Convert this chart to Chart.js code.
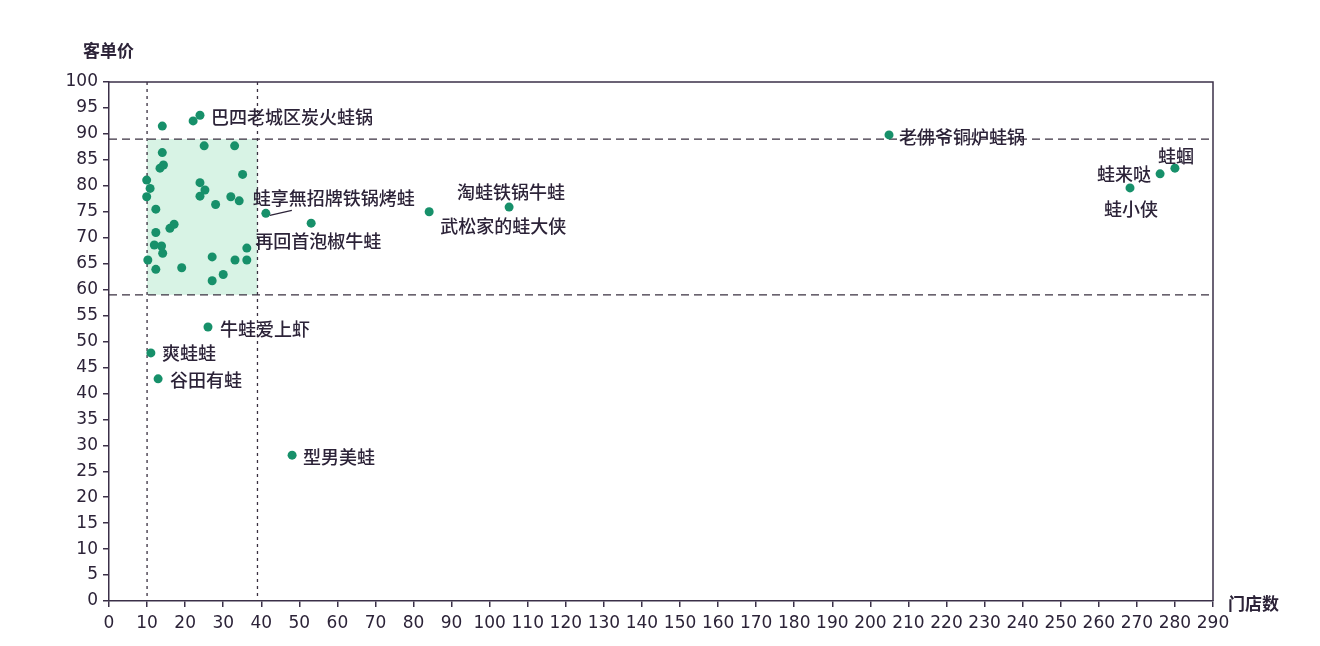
<!DOCTYPE html>
<html>
<head>
<meta charset="utf-8">
<script src="https://cdn.jsdelivr.net/npm/chart.js@4"></script>
<style>
  html, body { margin: 0; padding: 0; background: #ffffff; }
  #wrap { width: 1320px; height: 646px; }
</style>
</head>
<body>
<div id="wrap"><canvas id="c" width="1320" height="646"></canvas></div>
<script>
// brand names (empty = unlabeled dot)
const brands = [
  '', '', '巴四老城区炭火蛙锅', '', '', '', '', '', '',
  '', '', '', '', '', '', '', '',
  '', '蛙享無招牌铁锅烤蛙', '', '', '', '', '',
  '', '', '', '', '', '', '', '', '',
  '', '',
  '再回首泡椒牛蛙', '武松家的蛙大侠', '淘蛙铁锅牛蛙', '老佛爷铜炉蛙锅',
  '蛙小侠', '蛙来哒', '蛙蝈',
  '牛蛙爱上虾', '爽蛙蛙', '谷田有蛙', '型男美蛙'
];
// 门店数
const stores = [
  14.0, 22.1, 23.9, 25.0, 33.0, 14.0, 13.4, 14.3, 35.1,
  9.9, 10.8, 9.9, 23.9, 25.2, 23.9, 28.0, 32.0,
  34.2, 41.2, 12.3, 16.0, 17.1, 12.3, 11.9,
  13.8, 14.1, 36.2, 10.2, 12.3, 19.1, 27.1, 33.1, 36.2,
  30.0, 27.1,
  53.1, 84.1, 105.1, 204.9,
  268.2, 276.1, 280.0,
  26.0, 11.0, 12.9, 48.1
];
// 客单价
const prices = [
  91.5, 92.5, 93.6, 87.7, 87.7, 86.4, 83.4, 84.0, 82.2,
  81.1, 79.5, 77.9, 80.6, 79.2, 78.0, 76.4, 77.9,
  77.1, 74.7, 75.5, 71.8, 72.6, 71.0, 68.6,
  68.4, 67.0, 68.0, 65.7, 63.9, 64.2, 66.3, 65.7, 65.7,
  62.9, 61.7,
  72.8, 75.0, 75.9, 89.8,
  79.6, 82.3, 83.4,
  52.8, 47.8, 42.8, 28.1
];
// quadrant guides
const storeBand = [10, 39];
const priceBand = [59, 89];

const xTicks = { min: 0, max: 290, step: 10 };
const yTicks = { min: 0, max: 100, step: 5 };

// label placement relative to the dot (pixels)
const labelPlace = {
  '巴四老城区炭火蛙锅': { dx: 11, dy: 2 },
  '蛙享無招牌铁锅烤蛙': { dx: -13, dy: -15, leader: true },
  '再回首泡椒牛蛙': { dx: -56, dy: 18 },
  '武松家的蛙大侠': { dx: 11, dy: 14 },
  '淘蛙铁锅牛蛙': { dx: -52, dy: -15 },
  '老佛爷铜炉蛙锅': { dx: 10, dy: 2 },
  '蛙小侠': { dx: -26, dy: 21 },
  '蛙来哒': { dx: -63, dy: 0 },
  '蛙蝈': { dx: -17, dy: -12 },
  '牛蛙爱上虾': { dx: 12, dy: 2 },
  '爽蛙蛙': { dx: 11, dy: 0 },
  '谷田有蛙': { dx: 12, dy: 1 },
  '型男美蛙': { dx: 11, dy: 2 }
};

const points = stores.map((s, i) => ({ x: s, y: prices[i], name: brands[i] }));

const ink = '#2c2338';
const axisInk = '#3b3048';
const dotColor = '#17906a';
const bandFill = '#d8f3e5';

// shaded band + dashed guides, drawn under the dots
const guides = {
  id: 'guides',
  beforeDatasetsDraw(chart) {
    const { ctx, chartArea: a, scales: { x, y } } = chart;
    const x0 = x.getPixelForValue(storeBand[0]);
    const x1 = x.getPixelForValue(storeBand[1]);
    const y0 = y.getPixelForValue(priceBand[1]);
    const y1 = y.getPixelForValue(priceBand[0]);
    ctx.save();
    ctx.fillStyle = bandFill;
    ctx.fillRect(x0, y0, x1 - x0, y1 - y0);

    ctx.strokeStyle = '#3a3040';
    ctx.lineWidth = 1.3;
    ctx.setLineDash([8, 5]);
    [y0, y1].forEach(py => {
      ctx.beginPath();
      ctx.moveTo(a.left, py);
      ctx.lineTo(a.right, py);
      ctx.stroke();
    });
    ctx.setLineDash([3, 4]);
    [x0, x1].forEach(px => {
      ctx.beginPath();
      ctx.moveTo(px, a.top);
      ctx.lineTo(px, a.bottom);
      ctx.stroke();
    });
    ctx.restore();
  },
  afterDraw(chart) {
    const { ctx, chartArea: a } = chart;
    ctx.save();
    // frame top + right
    ctx.strokeStyle = axisInk;
    ctx.lineWidth = 1.5;
    ctx.beginPath();
    ctx.moveTo(a.left, a.top);
    ctx.lineTo(a.right, a.top);
    ctx.lineTo(a.right, a.bottom);
    ctx.stroke();
    // axis titles
    ctx.fillStyle = ink;
    ctx.font = 'bold 17px "Noto Sans CJK SC"';
    ctx.textBaseline = 'middle';
    ctx.textAlign = 'left';
    ctx.fillText('客单价', 83, 51);
    ctx.fillText('门店数', 1228, 604);
    ctx.restore();
  }
};

// brand labels next to their dots
const brandLabels = {
  id: 'brandLabels',
  afterDatasetsDraw(chart) {
    const { ctx, scales: { x, y } } = chart;
    ctx.save();
    ctx.font = '500 18px "Noto Sans CJK SC"';
    ctx.fillStyle = ink;
    ctx.textBaseline = 'middle';
    ctx.textAlign = 'left';
    points.forEach(p => {
      if (!p.name) return;
      const o = labelPlace[p.name];
      const px = x.getPixelForValue(p.x);
      const py = y.getPixelForValue(p.y);
      ctx.fillText(p.name, px + o.dx, py + o.dy);
      if (o.leader) {
        ctx.strokeStyle = ink;
        ctx.lineWidth = 1.2;
        ctx.beginPath();
        ctx.moveTo(px + 4, py + 2);
        ctx.lineTo(px + 26, py - 3);
        ctx.stroke();
      }
    });
    ctx.restore();
  }
};

new Chart(document.getElementById('c'), {
  type: 'scatter',
  data: {
    datasets: [{
      data: points,
      backgroundColor: dotColor,
      borderColor: dotColor,
      pointRadius: 4.5,
      pointHoverRadius: 4.5,
      borderWidth: 0
    }]
  },
  options: {
    responsive: false,
    animation: false,
    layout: { padding: { top: 82, right: 107, left: 0, bottom: 0 } },
    plugins: { legend: { display: false }, tooltip: { enabled: false } },
    scales: {
      x: {
        type: 'linear',
        min: xTicks.min,
        max: xTicks.max,
        afterBuildTicks(s) {
          s.ticks = [];
          for (let v = xTicks.min; v <= xTicks.max; v += xTicks.step) s.ticks.push({ value: v });
        },
        afterFit(s) { s.height = 45; },
        border: { display: true, color: axisInk, width: 1.5 },
        grid: { drawOnChartArea: false, drawTicks: true, tickLength: 6, color: axisInk, lineWidth: 1.5 },
        ticks: {
          autoSkip: false,
          maxRotation: 0,
          padding: 6,
          color: ink,
          font: { family: 'DejaVu Sans', size: 17 }
        }
      },
      y: {
        type: 'linear',
        min: yTicks.min,
        max: yTicks.max,
        afterBuildTicks(s) {
          s.ticks = [];
          for (let v = yTicks.min; v <= yTicks.max; v += yTicks.step) s.ticks.push({ value: v });
        },
        afterFit(s) { s.width = 109; },
        border: { display: true, color: axisInk, width: 1.5 },
        grid: { drawOnChartArea: false, drawTicks: true, tickLength: 6, color: axisInk, lineWidth: 1.5 },
        ticks: {
          autoSkip: false,
          padding: 5,
          color: ink,
          font: { family: 'DejaVu Sans', size: 17 }
        }
      }
    }
  },
  plugins: [guides, brandLabels]
});
</script>
</body>
</html>
